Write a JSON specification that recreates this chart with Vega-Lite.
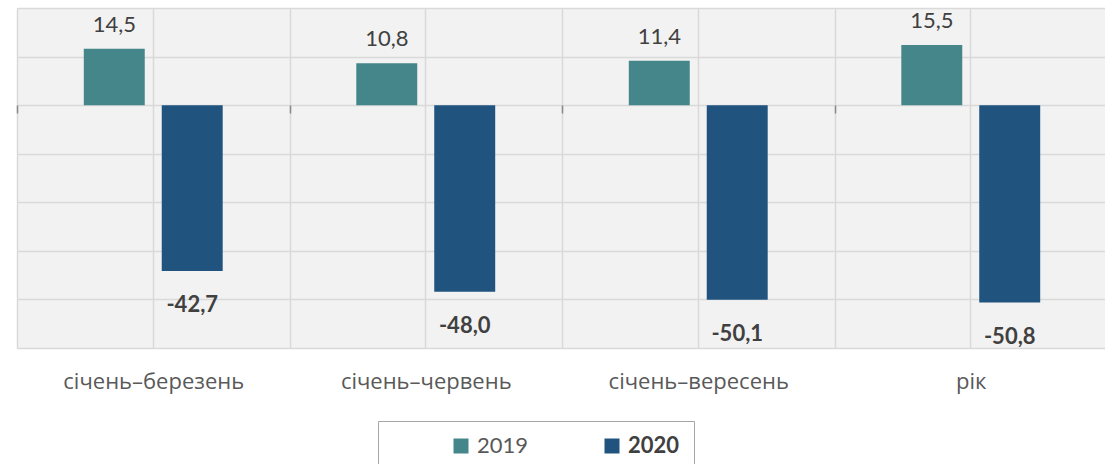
{
  "$schema": "https://vega.github.io/schema/vega-lite/v6.json",
  "width": 1090,
  "height": 340,
  "autosize": {"type": "none"},
  "padding": {"left": 17, "top": 8, "right": 0, "bottom": 116},
  "background": "white",
  "config": {
    "locale": {"number": {"decimal": ",", "thousands": " ", "grouping": [3], "currency": ["", ""], "minus": "-"}},
    "view": {"fill": "#f2f2f2", "stroke": null},
    "font": "Open Sans"
  },
  "data": {
    "values": [
      {"period": "січень–березень", "year": "2019", "value": 14.5},
      {"period": "січень–березень", "year": "2020", "value": -42.7},
      {"period": "січень–червень", "year": "2019", "value": 10.8},
      {"period": "січень–червень", "year": "2020", "value": -48.0},
      {"period": "січень–вересень", "year": "2019", "value": 11.4},
      {"period": "січень–вересень", "year": "2020", "value": -50.1},
      {"period": "рік", "year": "2019", "value": 15.5},
      {"period": "рік", "year": "2020", "value": -50.8}
    ]
  },
  "resolve": {"axis": {"x": "independent"}},
  "layer": [
    {
      "mark": {"type": "bar"},
      "encoding": {
        "x": {
          "field": "period", "type": "nominal", "sort": null,
          "scale": {"paddingInner": 0, "paddingOuter": 0},
          "axis": {
            "title": null, "orient": "bottom", "grid": true, "tickBand": "extent",
            "gridColor": "#d9d9d9", "gridWidth": 1.5, "domain": false, "ticks": false,
            "labelFont": "Open Sans", "labelFontSize": 22, "labelColor": "#595959",
            "labelPadding": 23, "labelAngle": 0, "labelLimit": 300
          }
        },
        "xOffset": {"field": "year", "type": "nominal", "scale": {"paddingInner": 0.218, "paddingOuter": 0.857}},
        "y": {
          "field": "value", "type": "quantitative",
          "scale": {"domain": [-62.5, 25], "nice": false, "zero": false},
          "axis": {
            "title": null, "values": [-62.5, -50, -37.5, -25, -12.5, 0, 12.5, 25],
            "labels": false, "ticks": false, "domain": false, "grid": true,
            "gridColor": "#d9d9d9", "gridWidth": 1.5
          }
        },
        "color": {
          "field": "year", "type": "nominal",
          "scale": {"domain": ["2019", "2020"], "range": ["#448689", "#21537f"]},
          "legend": {
            "title": null,
            "orient": "none", "legendX": 361, "legendY": 413, "direction": "horizontal",
            "padding": 14, "strokeColor": "#a6a6a6", "fillColor": "white",
            "symbolType": "square", "symbolSize": 225, "symbolStrokeWidth": 0, "symbolOpacity": 1,
            "symbolOffset": 58, "labelOffset": 5, "columnPadding": 14,
            "labelFont": "Lato", "labelFontSize": 22, "labelColor": "#595959", "labelLimit": 300,
            "encode": {"labels": {"update": {
              "text": {"signal": "datum.value === '2020' ? '2020\u00a0\u00a0\u00a0\u00a0\u00a0\u00a0\u00a0\u00a0\u00a0\u00a0\u00a0\u00a0' : datum.label"},
              "fontWeight": {"signal": "datum.value === '2020' ? 'bold' : 'normal'"},
              "fill": {"signal": "datum.value === '2020' ? '#404040' : '#595959'"}}}}
          }
        }
      }
    },
    {
      "mark": {"type": "rule", "color": "#8a8a8a", "strokeWidth": 1.5},
      "encoding": {
        "x": {
          "field": "period", "type": "nominal", "sort": null,
          "axis": {"title": null, "orient": "top", "grid": true, "tickBand": "center", "gridColor": "#d9d9d9", "gridWidth": 1.5, "labels": false, "ticks": false, "domain": false}
        },
        "y": {"datum": 0}
      }
    },
    {
      "transform": [{"filter": "datum.year === '2019'"}],
      "mark": {"type": "text", "baseline": "alphabetic", "dy": -17, "fontSize": 22, "font": "Lato", "color": "#404040"},
      "encoding": {
        "x": {
          "field": "period", "type": "nominal", "sort": null,
          "axis": {"title": null, "orient": "bottom", "offset": -243, "grid": false, "labels": false, "domain": false, "ticks": true, "tickBand": "extent", "tickColor": "#8a8a8a", "tickWidth": 1.5, "tickSize": 8}
        },
        "xOffset": {"field": "year", "type": "nominal"},
        "y": {"field": "value", "type": "quantitative"},
        "text": {"field": "value", "type": "quantitative", "format": ".1f"}
      }
    },
    {
      "transform": [{"filter": "datum.year === '2020'"}],
      "mark": {"type": "text", "baseline": "alphabetic", "dy": 41, "fontSize": 22, "font": "Lato", "fontWeight": "bold", "color": "#404040"},
      "encoding": {
        "x": {"field": "period", "type": "nominal", "sort": null, "axis": null},
        "xOffset": {"field": "year", "type": "nominal"},
        "y": {"field": "value", "type": "quantitative"},
        "text": {"field": "value", "type": "quantitative", "format": ".1f"}
      }
    }
  ]
}
